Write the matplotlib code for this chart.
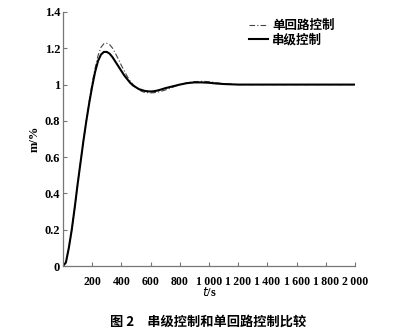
import numpy as np
import matplotlib
matplotlib.use("Agg")
import matplotlib.pyplot as plt

# time axis (s)
t = [0, 20, 40, 60, 80, 100, 120, 140, 160, 180, 200, 220, 240, 260, 280, 300,
     320, 340, 360, 380, 400, 420, 440, 460, 480, 500, 520, 540, 560, 580, 600,
     620, 640, 660, 680, 700, 750, 800, 850, 900, 950, 1000, 1050, 1100, 1200,
     1400, 2000]

# cascade control response
cascade = [0, 0.02, 0.1, 0.2, 0.32, 0.45, 0.57, 0.69, 0.8, 0.9, 0.99, 1.07,
           1.13, 1.165, 1.18, 1.18, 1.17, 1.15, 1.125, 1.1, 1.075, 1.05, 1.03,
           1.01, 0.995, 0.985, 0.975, 0.97, 0.965, 0.963, 0.962, 0.963, 0.966,
           0.97, 0.975, 0.98, 0.99, 1.0, 1.008, 1.012, 1.012, 1.01, 1.006,
           1.003, 1.0, 1.0, 1.0]

# single loop control response
single = [0, 0.02, 0.1, 0.2, 0.32, 0.45, 0.57, 0.69, 0.8, 0.91, 1.01, 1.09,
          1.16, 1.205, 1.225, 1.228, 1.22, 1.2, 1.17, 1.14, 1.105, 1.075, 1.045,
          1.02, 1.0, 0.985, 0.972, 0.962, 0.957, 0.955, 0.954, 0.955, 0.957,
          0.96, 0.965, 0.97, 0.985, 1.0, 1.01, 1.016, 1.018, 1.016, 1.01,
          1.005, 1.0, 1.0, 1.0]

xticks = [200, 400, 600, 800, 1000, 1200, 1400, 1600, 1800, 2000]
xtick_labels = ["200", "400", "600", "800", "1\u2009000", "1\u2009200",
                "1\u2009400", "1\u2009600", "1\u2009800", "2\u2009000"]
yticks = [0, 0.2, 0.4, 0.6, 0.8, 1.0, 1.2, 1.4]
ytick_labels = ["0", "0.2", "0.4", "0.6", "0.8", "1", "1.2", "1.4"]

cjk = ["Noto Sans CJK SC", "DejaVu Sans"]
serif = "Liberation Serif"

fig = plt.figure(figsize=(4.09, 3.33), dpi=100)
ax = fig.add_axes([0.154, 0.201, 0.714, 0.763])

ax.plot(t, single, color="#444444", lw=0.8, linestyle=(0, (5, 2, 1, 2)),
        label="单回路控制")
ax.plot(t, cascade, color="black", lw=1.5, label="串级控制")

ax.set_xlim(0, 2000)
ax.set_ylim(0, 1.4)
ax.set_xticks(xticks)
ax.set_xticklabels(xtick_labels, fontfamily=serif, fontsize=8.5, fontweight="bold")
ax.set_yticks(yticks)
ax.set_yticklabels(ytick_labels, fontfamily=serif, fontsize=9, fontweight="bold")
ax.tick_params(direction="in", length=3, width=0.8, color="#777777", pad=2)
ax.tick_params(axis="x", pad=7)

for side in ["top", "right"]:
    ax.spines[side].set_visible(False)
for side in ["left", "bottom"]:
    ax.spines[side].set_color("#777777")
    ax.spines[side].set_linewidth(0.9)

ax.set_xlabel("$\\it{t}$/s", fontfamily=serif, fontsize=9, fontweight="bold",
              labelpad=-1)
ax.set_ylabel("m/%", fontfamily=serif, fontsize=9, fontweight="bold",
              labelpad=3)

ax.legend(loc="upper left", bbox_to_anchor=(0.6, 1.015), frameon=False,
          prop={"family": cjk, "weight": "bold", "size": 9},
          handlelength=1.5, handletextpad=0.3, labelspacing=0.05)

fig.text(0.51, 0.035, "图 2　串级控制和单回路控制比较", ha="center",
         va="center", fontfamily=cjk, fontweight="bold", fontsize=9.5)

fig.savefig("out.png", dpi=100)
